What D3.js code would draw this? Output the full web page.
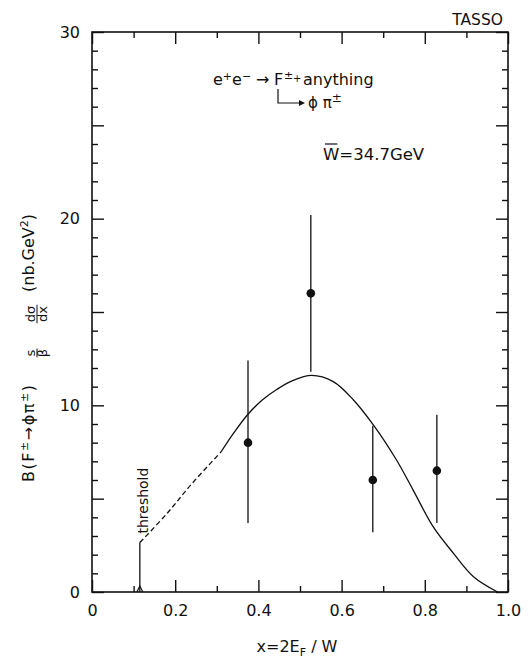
<!DOCTYPE html>
<html lang="en">
<head>
  <meta charset="UTF-8">
  <title>TASSO F± → φπ± cross section</title>
  <style>
    body { margin: 0; background: #fff; }
    svg text { font-family: "DejaVu Sans", sans-serif; fill: #111; }
  </style>
</head>
<body>
  <script src="https://cdn.jsdelivr.net/npm/d3@7"></script>
  <script>
    // data points
    const pointX = [0.375, 0.526, 0.675, 0.829];
    const pointY = [8.0, 16.0, 6.0, 6.5];
    const errLow = [3.7, 11.8, 3.2, 3.7];
    const errHigh = [12.4, 20.2, 8.9, 9.5];

    // model curve: dashed part near threshold, then solid
    const dashX = [0.115, 0.18, 0.24, 0.31];
    const dashY = [2.65, 4.2, 5.8, 7.5];
    const fitX = [0.31, 0.34, 0.376, 0.41, 0.444, 0.48, 0.528, 0.58, 0.628, 0.678, 0.732, 0.772, 0.82, 0.869, 0.917, 0.975];
    const fitY = [7.5, 8.5, 9.55, 10.3, 10.85, 11.3, 11.6, 11.27, 10.3, 8.9, 7.07, 5.46, 3.5, 2.07, 0.82, 0];
    const thresholdX = 0.115;

    const xMajor = [0, 0.2, 0.4, 0.6, 0.8, 1.0];
    const xLabels = ['0', '0.2', '0.4', '0.6', '0.8', '1.0'];
    const xMinor = [0.1, 0.3, 0.5, 0.7, 0.9];
    const yMajor = [0, 5, 10, 15, 20, 25, 30];
    const yLabels = {0: '0', 10: '10', 20: '20', 30: '30'};
    const yMinor = d3.range(1, 30).filter(v => v % 5 !== 0);

    const W = 528, H = 661;
    const plotL = 92, plotR = 508, plotT = 32, plotB = 592;

    const svg = d3.select('body').append('svg')
      .attr('width', W)
      .attr('height', H);

    const x = d3.scaleLinear().domain([0, 1]).range([plotL, plotR]);
    const y = d3.scaleLinear().domain([0, 30]).range([plotB, plotT]);

    function styleAxis(g){
      g.select('.domain').remove();
      g.selectAll('line').attr('stroke', '#111').attr('stroke-width', 1.4);
      g.selectAll('text').attr('font-size', 16).attr('font-family', null).attr('fill', '#111');
    }

    // bottom
    svg.append('g').attr('transform', `translate(0,${plotB})`)
      .call(d3.axisBottom(x).tickValues(xMajor).tickSize(-12).tickPadding(13)
        .tickFormat((d, i) => xLabels[i]))
      .call(styleAxis);
    svg.append('g').attr('transform', `translate(0,${plotB})`)
      .call(d3.axisBottom(x).tickValues(xMinor).tickSize(-6).tickFormat(''))
      .call(styleAxis);
    // top
    svg.append('g').attr('transform', `translate(0,${plotT})`)
      .call(d3.axisTop(x).tickValues(xMajor).tickSize(-12).tickFormat(''))
      .call(styleAxis);
    svg.append('g').attr('transform', `translate(0,${plotT})`)
      .call(d3.axisTop(x).tickValues(xMinor).tickSize(-6).tickFormat(''))
      .call(styleAxis);
    // left
    svg.append('g').attr('transform', `translate(${plotL},0)`)
      .call(d3.axisLeft(y).tickValues(yMajor).tickSize(-12).tickPadding(12)
        .tickFormat(d => yLabels[d] || ''))
      .call(styleAxis);
    svg.append('g').attr('transform', `translate(${plotL},0)`)
      .call(d3.axisLeft(y).tickValues(yMinor).tickSize(-6).tickFormat(''))
      .call(styleAxis);
    // right
    svg.append('g').attr('transform', `translate(${plotR},0)`)
      .call(d3.axisRight(y).tickValues(yMajor).tickSize(-12).tickFormat(''))
      .call(styleAxis);
    svg.append('g').attr('transform', `translate(${plotR},0)`)
      .call(d3.axisRight(y).tickValues(yMinor).tickSize(-6).tickFormat(''))
      .call(styleAxis);

    // frame
    svg.append('rect')
      .attr('x', plotL).attr('y', plotT)
      .attr('width', plotR - plotL).attr('height', plotB - plotT)
      .attr('fill', 'none').attr('stroke', '#111').attr('stroke-width', 1.6);

    // curves
    const line = d3.line().x(d => x(d[0])).y(d => y(d[1])).curve(d3.curveCatmullRom.alpha(0.5));
    svg.append('path')
      .datum(dashX.map((v, i) => [v, dashY[i]]))
      .attr('d', line)
      .attr('fill', 'none').attr('stroke', '#111').attr('stroke-width', 1.3)
      .attr('stroke-dasharray', '5,3');
    svg.append('path')
      .datum(fitX.map((v, i) => [v, fitY[i]]))
      .attr('d', line)
      .attr('fill', 'none').attr('stroke', '#111').attr('stroke-width', 1.3);

    // threshold
    svg.append('line')
      .attr('x1', x(thresholdX)).attr('x2', x(thresholdX))
      .attr('y1', y(0)).attr('y2', y(dashY[0]))
      .attr('stroke', '#111').attr('stroke-width', 1.3);
    svg.append('path')
      .attr('d', `M${x(thresholdX) - 3},${y(0)} L${x(thresholdX)},${y(0) - 6} L${x(thresholdX) + 3},${y(0)}`)
      .attr('fill', 'none').attr('stroke', '#111').attr('stroke-width', 1.2);
    svg.append('text')
      .attr('transform', `translate(${x(thresholdX) + 8},${y(dashY[0]) - 9}) rotate(-90)`)
      .attr('font-size', 14)
      .text('threshold');

    // data points
    const pts = svg.append('g');
    pts.selectAll('line.err').data(pointX).enter().append('line')
      .attr('class', 'err')
      .attr('x1', d => x(d)).attr('x2', d => x(d))
      .attr('y1', (d, i) => y(errLow[i])).attr('y2', (d, i) => y(errHigh[i]))
      .attr('stroke', '#111').attr('stroke-width', 1.3);
    pts.selectAll('circle').data(pointX).enter().append('circle')
      .attr('cx', d => x(d)).attr('cy', (d, i) => y(pointY[i]))
      .attr('r', 4.3).attr('fill', '#111');

    // labels
    svg.append('text').attr('x', 503).attr('y', 25)
      .attr('text-anchor', 'end').attr('font-size', 15.5).text('TASSO');

    const ann = svg.append('text').attr('y', 85).attr('font-size', 16);
    ann.append('tspan').attr('x', 213).text('e');
    ann.append('tspan').attr('font-size', 11).attr('dy', -5).text('+');
    ann.append('tspan').attr('dy', 5).text('e');
    ann.append('tspan').attr('font-size', 11).attr('dy', -5).text('−');
    ann.append('tspan').attr('x', 256).attr('dy', 5).text('→');
    ann.append('tspan').attr('x', 274).text('F');
    ann.append('tspan').attr('x', 284).attr('font-size', 11).attr('dy', -6).text('±');
    ann.append('tspan').attr('x', 293).attr('font-size', 10).attr('dy', 3).text('+');
    ann.append('tspan').attr('x', 303).attr('dy', 3).text('anything');

    const fx = 278;
    svg.append('path')
      .attr('d', `M${fx},89 V103 H${fx + 22}`)
      .attr('fill', 'none').attr('stroke', '#111').attr('stroke-width', 1.2);
    svg.append('path')
      .attr('d', `M${fx + 27},103 l-6,-3 v6 z`)
      .attr('fill', '#111');
    const ann2 = svg.append('text').attr('x', fx + 30).attr('y', 108).attr('font-size', 15);
    ann2.append('tspan').text('ϕ π');
    ann2.append('tspan').attr('font-size', 12).attr('dy', -6).text('±');

    const wText = svg.append('text').attr('x', 323).attr('y', 160)
      .attr('font-family', '"DejaVu Sans Condensed", "DejaVu Sans", sans-serif')
      .attr('font-size', 16.5).text('W=34.7GeV');
    const wWidth = wText.node().getSubStringLength(0, 1);
    svg.append('line')
      .attr('x1', 325).attr('x2', 323 + wWidth - 2)
      .attr('y1', 144).attr('y2', 144)
      .attr('stroke', '#111').attr('stroke-width', 1.2);

    // x title
    const xt = svg.append('text').attr('x', 297).attr('y', 652)
      .attr('text-anchor', 'middle').attr('font-size', 16);
    xt.append('tspan').text('x=2E');
    xt.append('tspan').attr('font-size', 11).attr('dy', 4).text('F');
    xt.append('tspan').attr('dy', -4).text(' / W');

    // y title, built in a rotated frame (local x runs up the page)
    const yt = svg.append('g').attr('transform', 'translate(34,340) rotate(-90)');
    const t1 = yt.append('text').attr('x', -142).attr('y', 0).attr('font-size', 16)
      .attr('textLength', 97).attr('lengthAdjust', 'spacing');
    t1.append('tspan').text('B(F');
    t1.append('tspan').attr('font-size', 11).attr('dy', -6).text('±');
    t1.append('tspan').attr('dy', 6).text('→ϕπ');
    t1.append('tspan').attr('font-size', 11).attr('dy', -6).text('±');
    t1.append('tspan').attr('dy', 6).text(')');

    function fraction(cx, num, den){
      const n = yt.append('text').attr('x', cx).attr('y', 1)
        .attr('text-anchor', 'middle').attr('font-size', 13).text(num);
      yt.append('text').attr('x', cx).attr('y', 13)
        .attr('text-anchor', 'middle').attr('font-size', 13).text(den);
      const w = n.node().getComputedTextLength() + 2;
      yt.append('line')
        .attr('x1', cx - w / 2).attr('x2', cx + w / 2)
        .attr('y1', 3).attr('y2', 3)
        .attr('stroke', '#111').attr('stroke-width', 1);
    }
    fraction(-13, 's', 'β');
    fraction(26, 'dσ', 'dx');

    const t2 = yt.append('text').attr('x', 48).attr('y', 0).attr('font-size', 16);
    t2.append('tspan').text('(nb.GeV');
    t2.append('tspan').attr('font-size', 11).attr('dy', -6).text('2');
    t2.append('tspan').attr('dy', 6).text(')');
  </script>
</body>
</html>
